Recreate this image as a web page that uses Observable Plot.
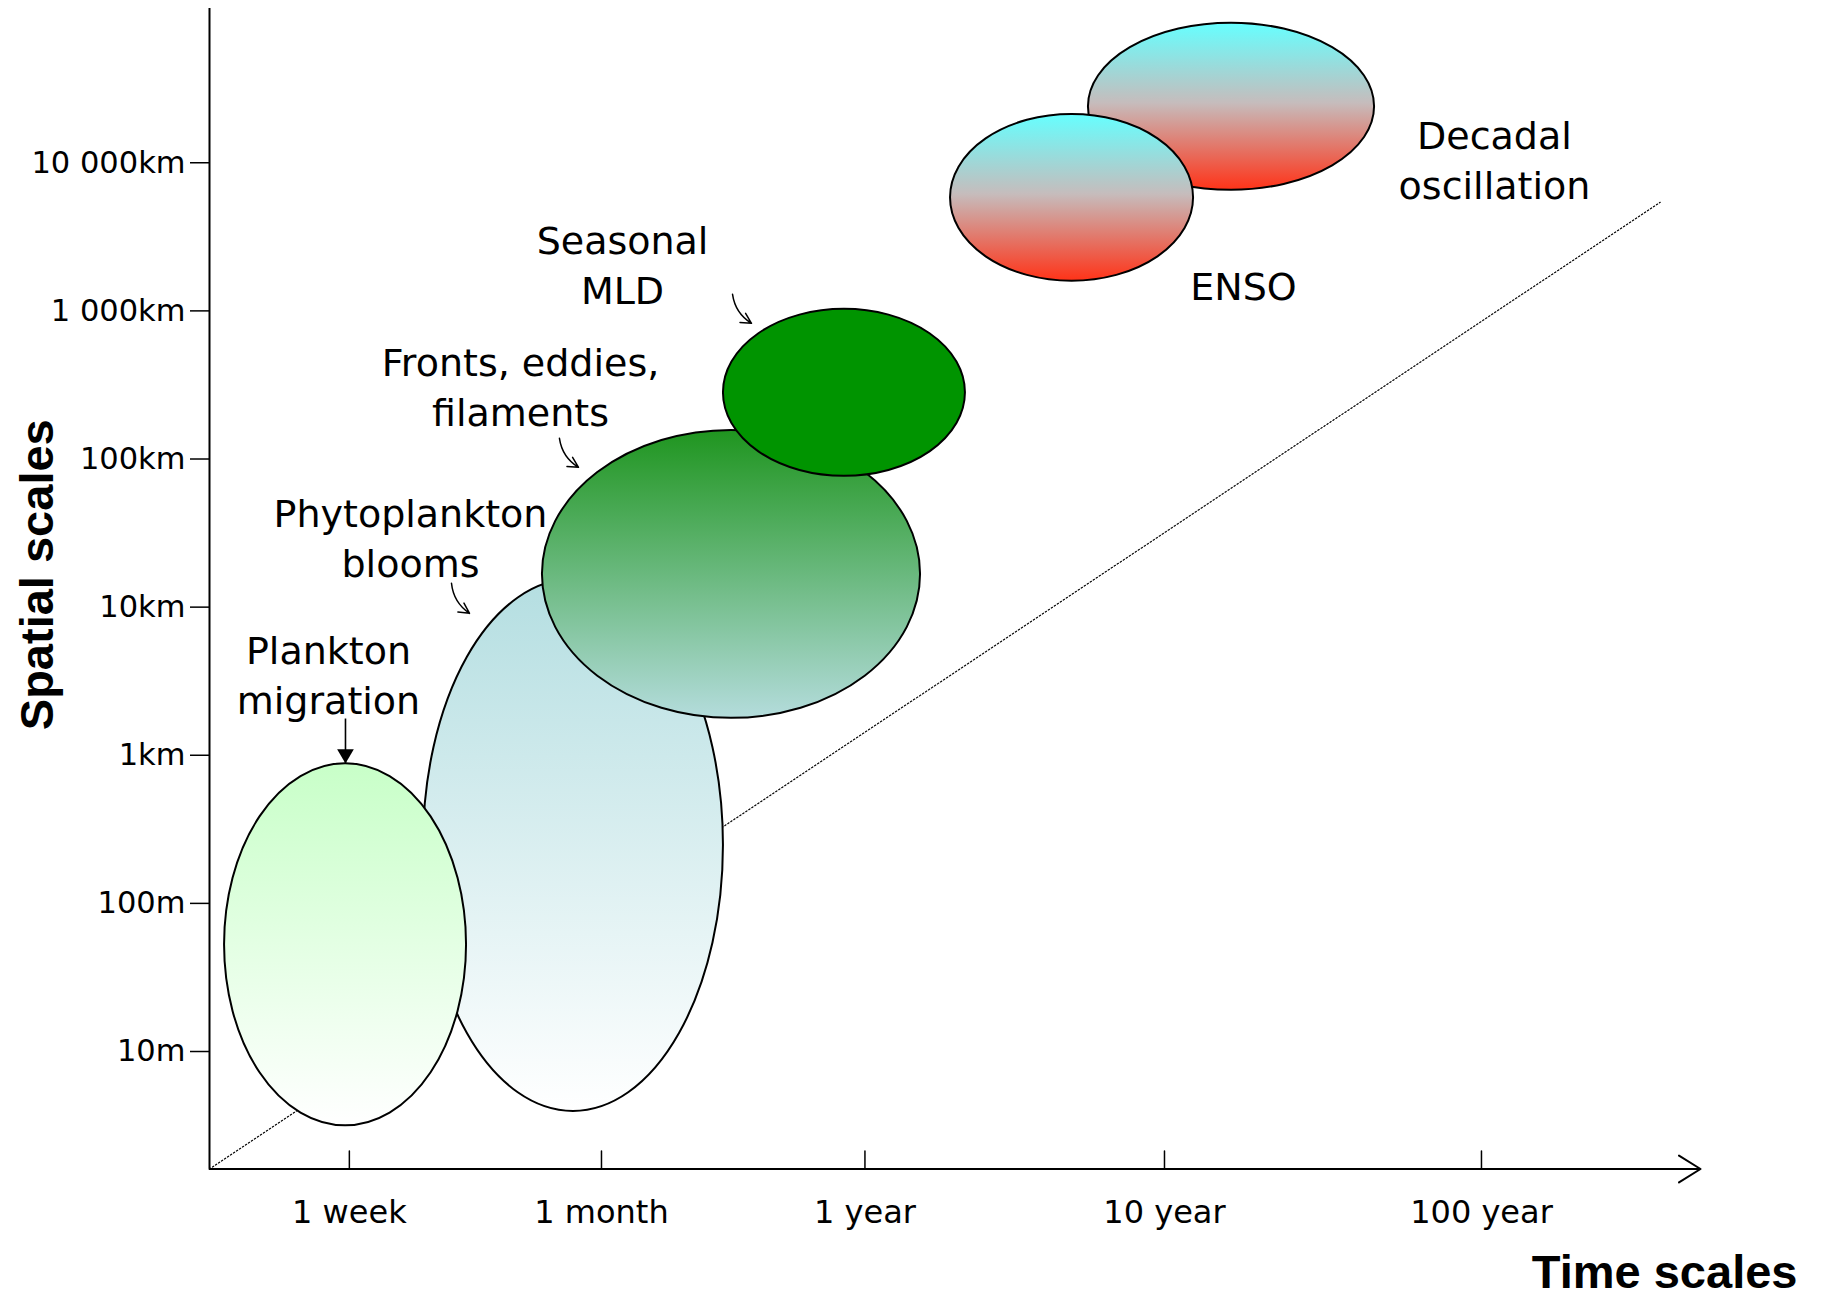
<!DOCTYPE html>
<html>
<head>
<meta charset="utf-8">
<script src="https://cdn.jsdelivr.net/npm/d3@7"></script>
<script src="https://cdn.jsdelivr.net/npm/@observablehq/plot@0.6"></script>
<style>
  html, body { margin: 0; padding: 0; background: #ffffff; }
  svg { display: block; }
</style>
</head>
<body>
<div id="chart"></div>
<script>
// ---------- DATA ----------
// Time axis: abstract position along the axis (0 = origin, 100 = arrow tip)
const timeTickPos = [9.38, 26.29, 43.96, 64.05, 85.31];
const timeTickLabels = ["1 week", "1 month", "1 year", "10 year", "100 year"];
const timeDomain = [0, 100];

// Spatial axis in metres (log scale)
const spaceTickValues = [10, 100, 1e3, 1e4, 1e5, 1e6, 1e7];
const spaceTickLabels = ["10m", "100m", "1km", "10km", "100km", "1 000km", "10 000km"];
const spaceDomain = [1.61, 1.1e8];

// Phenomena (drawn in this order): extent in time and in space
const phenomena = ["Phytoplankton blooms", "Plankton migration", "Fronts, eddies, filaments", "Seasonal MLD", "Decadal oscillation", "ENSO"];
const timeStart = [14.35, 1.01, 22.33, 34.47, 58.95, 49.70];
const timeEnd   = [34.47, 17.24, 47.69, 50.70, 78.14, 66.00];
const spaceLow  = [3.94, 3.15, 1775, 76400, 6.52e6, 1.585e6];
const spaceHigh = [15400, 875, 156000, 1.026e6, 8.75e7, 2.12e7];

// Annotation labels (anchor at block centre)
const labelTexts = ["Plankton\nmigration", "Phytoplankton\nblooms", "Fronts, eddies,\nfilaments", "Seasonal\nMLD", "ENSO", "Decadal\noscillation"];
const labelTime  = [7.98, 13.48, 20.86, 27.70, 69.35, 86.18];
const labelSpace = [3300, 27900, 291800, 1.946e6, 1.40e6, 9.95e6];

// Curved pointer arrows (Phytoplankton, Fronts, Seasonal MLD)
const pointerFromTime  = [16.23, 23.47, 35.08];
const pointerFromSpace = [14500, 138000, 1.294e6];
const pointerToTime    = [17.44, 24.75, 36.35];
const pointerToSpace   = [9080, 87900, 8.25e5];

// Straight arrow for plankton migration
const migrationArrowTime = [9.12, 9.12];
const migrationArrowSpace = [1770, 879];

// Dotted diagonal reference line
const diagonalTime = [0, 97.3];
const diagonalSpace = [1.61, 5.41e6];

// ---------- STYLES ----------
const gradientStops = {
  "Phytoplankton blooms": [[0, "#b4dee1"], [1, "#ffffff"]],
  "Plankton migration": [[0, "#c8ffc8"], [1, "#ffffff"]],
  "Fronts, eddies, filaments": [[0, "#1f951f"], [1, "#b4dcdc"]],
  "Seasonal MLD": [[0, "#009400"], [1, "#009400"]],
  "Decadal oscillation": [[0, "#66ffff"], [0.48, "#c6bcbc"], [1, "#ff3318"]],
  "ENSO": [[0, "#66ffff"], [0.48, "#c6bcbc"], [1, "#ff3318"]]
};
const handFont = "DejaVu Sans, sans-serif";

// ---------- BUILD ----------
const gradId = (i) => "phen-grad-" + i;
const ellipseMarks = phenomena.map((name, i) =>
  Plot.rect([i], {
    x1: (j) => timeStart[j], x2: (j) => timeEnd[j],
    y1: (j) => spaceLow[j], y2: (j) => spaceHigh[j],
    rx: 100000, ry: 100000,
    fill: `url(#${gradId(i)})`,
    stroke: "#000000", strokeWidth: 2
  })
);

const timeTicks = timeTickPos.map((p, i) => ({pos: p, label: timeTickLabels[i]}));
const spaceLabelOf = new Map(spaceTickValues.map((v, i) => [v, spaceTickLabels[i]]));
const labels = labelTexts.map((t, i) => ({text: t, t: labelTime[i], s: labelSpace[i]}));
const pointers = pointerFromTime.map((_, i) => ({
  t1: pointerFromTime[i], s1: pointerFromSpace[i], t2: pointerToTime[i], s2: pointerToSpace[i]
}));
const migration = [{t1: migrationArrowTime[0], s1: migrationArrowSpace[0], t2: migrationArrowTime[1], s2: migrationArrowSpace[1]}];
const diagonal = diagonalTime.map((t, i) => ({t, s: diagonalSpace[i]}));

const svg = Plot.plot({
  width: 1823,
  height: 1294,
  marginLeft: 209,
  marginRight: 123,
  marginTop: 8,
  marginBottom: 125.5,
  style: {background: "#ffffff", color: "#000000", overflow: "visible"},
  x: {type: "linear", domain: timeDomain, axis: null},
  y: {type: "log", domain: spaceDomain},
  marks: [
    // dotted reference diagonal
    Plot.line(diagonal, {x: "t", y: "s", stroke: "#000000", strokeWidth: 1.2, strokeDasharray: "1.4,2.2"}),
    // ellipses
    ...ellipseMarks,
    // axes lines
    Plot.ruleX([timeDomain[0]], {y1: spaceDomain[0], y2: spaceDomain[1], stroke: "#000000", strokeWidth: 2}),
    Plot.arrow([0], {x1: timeDomain[0], x2: timeDomain[1], y1: spaceDomain[0], y2: spaceDomain[0],
      stroke: "#000000", strokeWidth: 2, headLength: 19, headAngle: 64}),
    // y axis ticks and labels
    Plot.axisY(spaceTickValues, {
      tickSize: 19, tickPadding: 5, tickFormat: (d) => spaceLabelOf.get(d),
      fontSize: 30.5, fontFamily: "DejaVu Sans, sans-serif", strokeWidth: 1.5, label: null
    }),
    // x axis ticks (pointing inward, up)
    Plot.vector(timeTicks, {x: "pos", frameAnchor: "bottom", length: 18, anchor: "start",
      shape: "spike", r: 0, stroke: "#000000", strokeWidth: 1.5}),
    // x tick labels
    Plot.text(timeTicks, {x: "pos", text: "label", frameAnchor: "bottom", dy: 43.5,
      fontSize: 32, fontFamily: handFont, fill: "#000000", lineAnchor: "middle"}),
    // annotation labels
    Plot.text(labels, {x: "t", y: "s", text: "text", fontSize: 38, fontFamily: handFont, dy: -5,
      lineHeight: 1.316, lineAnchor: "middle", textAnchor: "middle", fill: "#000000"}),
    // curved pointers
    Plot.arrow(pointers, {x1: "t1", y1: "s1", x2: "t2", y2: "s2", bend: -25,
      headLength: 12, headAngle: 55, stroke: "#000000", strokeWidth: 1.5}),
    // straight migration arrow with filled head
    Plot.link(migration, {x1: "t1", y1: "s1", x2: "t2", y2: "s2", stroke: "#000000", strokeWidth: 1.6}),
    Plot.dot(migration, {x: "t2", y: "s2", symbol: "triangle", rotate: 180, r: 6.2, dy: -9.6,
      fill: "#000000", stroke: "none"}),
    // axis titles
    Plot.text(["Time scales"], {text: (d) => d, frameAnchor: "bottom-right", dx: 97, dy: 103.5,
      textAnchor: "end", lineAnchor: "middle", fontSize: 47, fontWeight: "bold",
      fontFamily: "Liberation Sans, Arial, sans-serif", fill: "#000000"}),
    Plot.text(["Spatial scales"], {text: (d) => d, frameAnchor: "left", dx: -172, dy: -14, rotate: -90,
      textAnchor: "middle", lineAnchor: "middle", fontSize: 47, fontWeight: "bold",
      fontFamily: "Liberation Sans, Arial, sans-serif", fill: "#000000"})
  ]
});

// gradient definitions for the ellipse fills
const defs = d3.select(svg).insert("defs", ":first-child");
phenomena.forEach((name, i) => {
  const g = defs.append("linearGradient").attr("id", gradId(i))
    .attr("x1", 0).attr("y1", 0).attr("x2", 0).attr("y2", 1);
  gradientStops[name].forEach(([o, c]) => g.append("stop").attr("offset", o).attr("stop-color", c));
});

document.getElementById("chart").appendChild(svg);
</script>
</body>
</html>
